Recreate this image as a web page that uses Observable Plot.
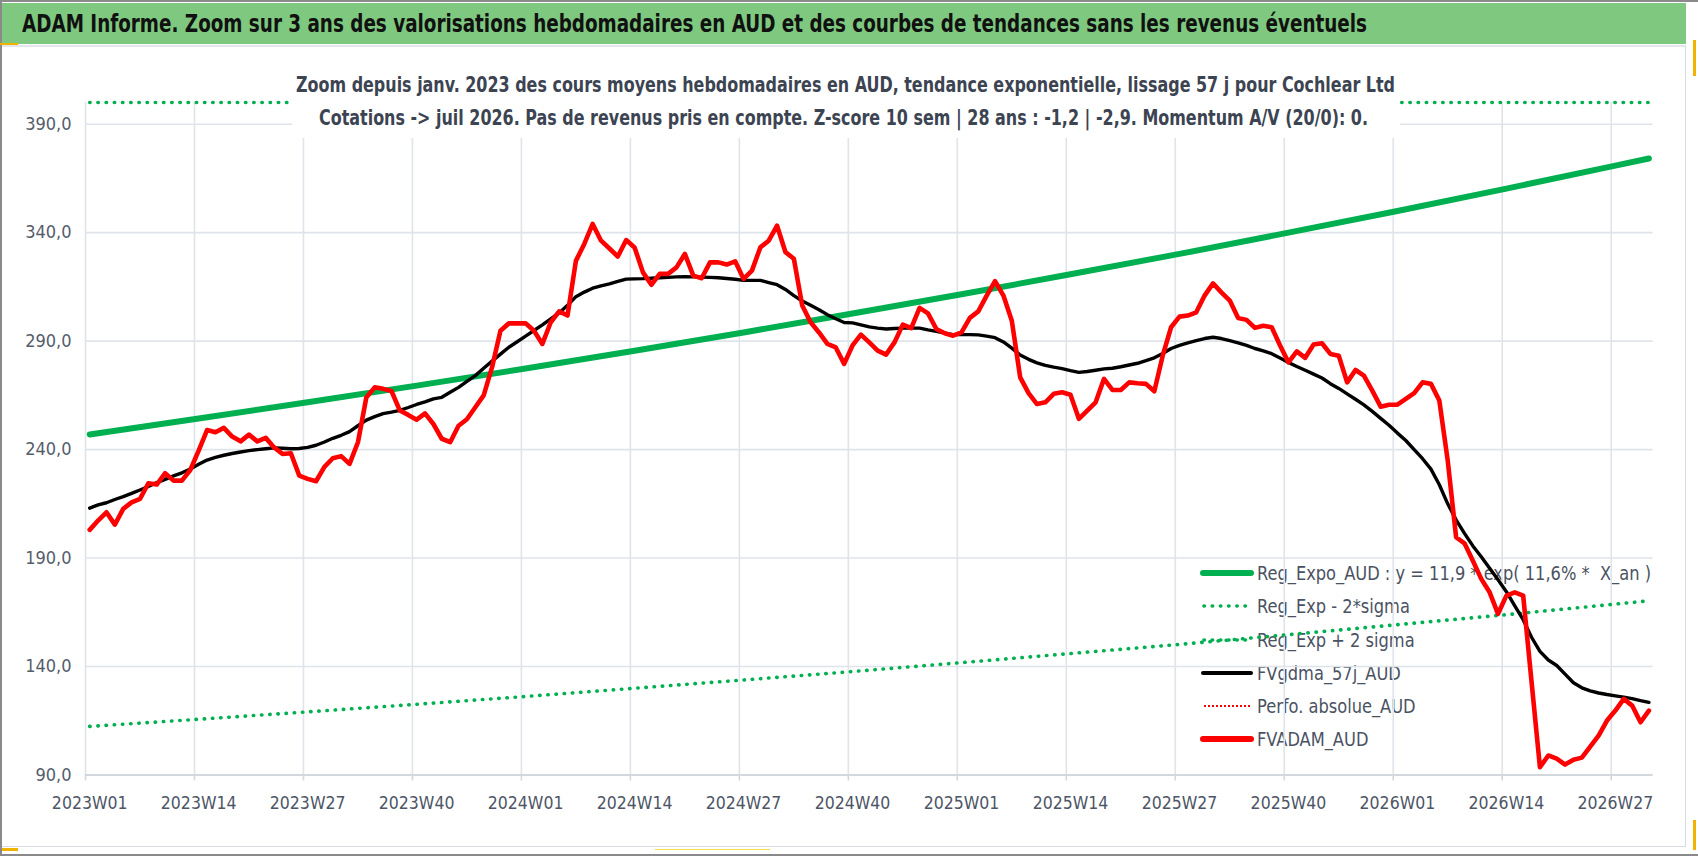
<!DOCTYPE html>
<html><head><meta charset="utf-8">
<script src="https://cdn.jsdelivr.net/npm/d3@7"></script>
<script src="https://cdn.jsdelivr.net/npm/@observablehq/plot@0.6"></script>
<style>
html,body{margin:0;padding:0;background:#fff;}
#wrap{position:relative;width:1698px;height:856px;overflow:hidden;background:#fff;font-family:"Liberation Sans Narrow","DejaVu Sans Condensed",sans-serif;}
.abs{position:absolute;}
#band{left:2px;top:3px;width:1684px;height:41px;background:#7ec97f;}
#title{left:22px;top:6px;font-size:25px;font-weight:bold;color:#111;white-space:nowrap;line-height:36px;transform-origin:0 50%;}
#chart{position:absolute;left:0;top:46px;z-index:1;}
#subbox{left:292px;top:60px;width:1108px;height:78px;background:#fff;z-index:2;}
.sub{position:absolute;white-space:nowrap;font-size:22px;font-weight:bold;color:#3c4452;line-height:30px;transform-origin:0 50%;}
.leg{position:absolute;left:1257px;white-space:pre;font-size:20px;color:#4a5262;line-height:30px;transform-origin:0 50%;z-index:0;}
.legs{position:absolute;left:1200px;width:56px;height:14px;z-index:0;}
</style></head>
<body>
<div id="wrap">
  <div class="abs" style="left:0;top:0;width:1698px;height:2px;background:#8a8a8a"></div>
  <div class="abs" style="left:0;top:0;width:2px;height:856px;background:#8a8a8a"></div>
  <div class="abs" style="left:0;top:854px;width:1698px;height:2px;background:#8a8a8a"></div>
  <div id="band" class="abs"></div>
  <div class="abs" style="left:0;top:43px;width:18px;height:2px;background:#f0b400"></div>
  <div class="abs" style="left:2px;top:45px;width:1684px;height:2px;background:#e3e6ea"></div>
  <div class="abs" style="left:1685px;top:46px;width:1px;height:800px;background:#d8dbe0"></div>
  <div class="abs" style="left:2px;top:846px;width:1684px;height:1px;background:#d8dbe0"></div>
  <div class="abs" style="left:1693px;top:40px;width:3px;height:36px;background:#f0b400"></div>
  <div class="abs" style="left:1693px;top:820px;width:3px;height:30px;background:#f0b400"></div>
  <div class="abs" style="left:2px;top:848px;width:16px;height:3px;background:#f0b400"></div>
  <div class="abs" style="left:655px;top:849px;width:115px;height:1px;background:#f5e04a"></div>
  <div id="title" class="abs"></div>
  <div id="subbox" class="abs"></div>
  <div id="sub1" class="sub" style="top:70px;z-index:3"></div>
  <div id="sub2" class="sub" style="top:103px;z-index:3"></div>
  <div id="legend"></div>
  <div id="chart"></div>
</div>
<script>
// ---------- data ----------
const titleText = "ADAM Informe. Zoom sur 3 ans des valorisations hebdomadaires en AUD et des courbes de tendances sans les revenus éventuels";
const subtitle1 = "Zoom depuis janv. 2023 des cours moyens hebdomadaires en AUD, tendance exponentielle, lissage 57 j pour Cochlear Ltd";
const subtitle2 = "Cotations -> juil 2026. Pas de revenus pris en compte. Z-score 10 sem | 28 ans : -1,2 | -2,9. Momentum A/V (20/0): 0.";

const years = [2023, 2024, 2025, 2026];
const weeksPerYear = [52, 52, 52, 31];
const weeks = [];
years.forEach((y, k) => { for (let w = 1; w <= weeksPerYear[k]; w++) weeks.push(y + "W" + String(w).padStart(2, "0")); });

const xTickLabels = ["2023W01","2023W14","2023W27","2023W40","2024W01","2024W14","2024W27","2024W40","2025W01","2025W14","2025W27","2025W40","2026W01","2026W14","2026W27"];
const yTicks = [90, 140, 190, 240, 290, 340, 390];

// FVADAM_AUD (weekly)
const fvadam = [203,207.3,211.1,205.4,212.7,215.7,217.3,224.5,223.9,229.1,225.7,225.7,230.6,239.5,249,248,250,246,243.8,246.9,243.8,245.4,241,238,238.3,228,226.5,225.4,232,236,237,233.4,243.4,264,268.7,268,267,258,256,253.8,256.7,251.8,245,243.4,251,254,259.5,265,278,294.8,298.2,298.2,298.2,294.8,288.7,298.7,303.7,301.8,327,334.8,344,336.3,332.7,329,336.6,333.2,321.7,316,321,321,324,330.2,320.2,319,326.3,326.3,325.3,326.8,318.7,322.5,333.2,336.3,343.2,331,328,306.4,298.7,294,288.7,287.1,279.5,288,293,289.4,285.6,283.8,289.4,297.6,296,305.3,302.8,295.6,293.6,292.5,294,300.7,303.7,311,317.6,311,299.4,273.3,266,261,261.8,265.7,266.4,265.3,254.2,258,261.8,272.6,267.5,267.5,271,270.6,270.3,266.9,283.3,296.4,301.3,301.8,303.3,311,316.6,312.5,308.7,300.7,299.8,296.1,297.1,296.4,288,280.2,285.3,282.3,288.4,289,284.1,283.3,271,276.7,274.1,267.2,259.8,260.7,260.7,263.4,266,271,270.3,262.6,235,199.6,196.8,188.8,180.4,174.2,164.3,172.7,174.2,172.7,133,93.6,99,97.5,94.8,97,98,103.1,108.2,115.1,119.7,125.1,122,114.3,119.7];

// FVgdma_57j_AUD (weekly)
const fvgdma = [213,214.5,215.5,217,218.3,219.8,221.4,223,224.8,226.3,227.9,229.3,231,233.2,235.2,236.4,237.4,238.2,238.9,239.5,240,240.4,240.8,240.6,240.4,240.5,241,242,243.5,245.2,246.6,248.3,251,253.6,255.2,256.6,257.3,258.1,259.4,260.8,262,263.4,264.1,266.4,268.7,271.4,274.1,277.5,280.8,284,287.2,289.7,292.3,294.9,297.5,300.3,303,306.5,310.5,312.6,314.4,315.5,316.4,317.5,318.6,318.7,318.8,319,319.2,319.4,319.6,319.7,319.6,319.5,319.4,319.2,318.9,318.5,318,318,318,317,316,313.8,311,308.5,306.5,304.5,302.2,300.3,298.6,298.4,297.5,296.6,296,295.6,295.8,296,296,296,295.2,294.5,293.7,293,293,293,292.9,292.3,291.6,289.6,286.8,283.6,281.6,280,278.8,278,277.3,276.4,275.6,276,276.6,277.2,277.5,278.2,279,279.8,281,282.3,284.3,286.6,288,289.2,290.2,291.2,291.8,291.2,290.2,289.2,288,286.6,285.5,284.2,282.2,280.2,278.3,276.6,274.8,273,270.4,268.2,265.7,263.2,260.6,257.6,254.4,251.2,247.6,244.2,240,235.8,231,223.8,215,207.6,201.4,195.6,190.6,185.3,180,174.5,168,161.6,153.5,147,143,140.5,136.5,132.5,130.2,128.8,127.8,127.1,126.5,125.9,125.2,124.3,123.5];

// trend curves read at a few weeks
const trendWeeks = ["2023W01","2023W14","2023W27","2023W40","2024W01","2024W14","2024W27","2024W40","2025W01","2025W14","2025W27","2025W40","2026W01","2026W14","2026W27","2026W31"];
const regExpo = [247,254.3,261.8,269.5,277.4,285.6,294,302.7,311.6,320.8,330.2,340,350,360.3,370.9,374.2];
const regMinus2 = [112.4,115.7,119.1,122.6,126.2,130,133.8,137.7,141.8,146,150.2,154.7,159.3,163.9,168.8,170.3];
const regPlus2 = [543,559,576,593,610,628,647,666,686,706,726,748,770,793,816,823];

const legendLabels = ["Reg_Expo_AUD : y = 11,9 * exp( 11,6% *  X_an )", "Reg_Exp - 2*sigma", "Reg_Exp + 2 sigma", "FVgdma_57j_AUD", "Perfo. absolue_AUD", "FVADAM_AUD"];

// ---------- build ----------
const idx = w => weeks.indexOf(w);
const series = weeks.map((w, i) => ({i, w, adam: fvadam[i], gdma: fvgdma[i]}));
const trend = trendWeeks.map((w, k) => ({i: idx(w), expo: regExpo[k], lo: regMinus2[k], hi: regPlus2[k]}));
const labelIdx = xTickLabels.map(idx);
const bounds = labelIdx.map(i => i - 0.5);
const N = weeks.length;
const FONT = '"Liberation Sans Narrow","DejaVu Sans Condensed",sans-serif';
const GREEN = "#00b050";
const DOTS = {stroke: GREEN, strokeWidth: 3.6, strokeDasharray: "0.4,7.8", strokeLinecap: "round"};

const chart = Plot.plot({
  width: 1698, height: 810,
  marginLeft: 85, marginRight: 45.4, marginTop: 56, marginBottom: 81.5,
  style: {background: "transparent", fontFamily: FONT, overflow: "visible"},
  x: {type: "linear", domain: [-0.5, N - 0.5], label: null},
  y: {domain: [90, 400], clamp: true, label: null},
  marks: [
    Plot.ruleY(yTicks.slice(1), {stroke: "#dfe3ea", strokeWidth: 1.6}),
    Plot.ruleX(bounds, {stroke: "#dfe3ea", strokeWidth: 1.6}),
    Plot.ruleY([90], {stroke: "#d3d7de", strokeWidth: 2.2}),
    Plot.ruleX(bounds, {y1: 90, y2: 90, insetBottom: -6, stroke: "#d3d7de", strokeWidth: 1.6}),
    Plot.axisX(labelIdx, {tickSize: 0, tickPadding: 22, tickFormat: i => weeks[i], fontSize: 17.5, fill: "#4d5566", label: null}),
    Plot.axisY(yTicks, {tickSize: 0, tickPadding: 14, tickFormat: d => d.toFixed(1).replace(".", ","), fontSize: 18, fill: "#555d6b", label: null}),
    Plot.line(trend, {x: "i", y: "hi", ...DOTS}),
    Plot.line(trend, {x: "i", y: "lo", ...DOTS}),
    Plot.line(trend, {x: "i", y: "expo", stroke: GREEN, strokeWidth: 6}),
    Plot.line(series, {x: "i", y: "gdma", stroke: "#000", strokeWidth: 3.4}),
    Plot.line(series, {x: "i", y: "adam", stroke: "#ff0000", strokeWidth: 4.6})
  ]
});
document.getElementById("chart").appendChild(chart);

// ---------- titles & legend ----------
document.getElementById("title").textContent = titleText;
document.getElementById("sub1").textContent = subtitle1;
document.getElementById("sub2").textContent = subtitle2;

const legendRowsY = [573, 606, 640, 673, 706, 739];
const samples = [
  '<line x1="3" y1="7" x2="51" y2="7" stroke="#00b050" stroke-width="6" stroke-linecap="round"/>',
  '<line x1="4" y1="7" x2="50" y2="7" stroke="#00b050" stroke-width="3.6" stroke-dasharray="0.4,7.8" stroke-linecap="round"/>',
  '<line x1="4" y1="7" x2="50" y2="7" stroke="#00b050" stroke-width="3.6" stroke-dasharray="0.4,7.8" stroke-linecap="round"/>',
  '<line x1="3" y1="7" x2="51" y2="7" stroke="#000" stroke-width="4" stroke-linecap="round"/>',
  '<line x1="4" y1="7" x2="50" y2="7" stroke="#ff0000" stroke-width="2" stroke-dasharray="2,2"/>',
  '<line x1="3" y1="7" x2="51" y2="7" stroke="#ff0000" stroke-width="6" stroke-linecap="round"/>'
];
const legend = document.getElementById("legend");
const legTexts = [];
legendLabels.forEach((lab, k) => {
  const s = document.createElementNS("http://www.w3.org/2000/svg", "svg");
  s.setAttribute("class", "legs"); s.setAttribute("width", 56); s.setAttribute("height", 14);
  s.style.top = (legendRowsY[k] - 7) + "px";
  s.innerHTML = samples[k];
  legend.appendChild(s);
  const t = document.createElement("div");
  t.className = "leg"; t.textContent = lab;
  t.style.top = (legendRowsY[k] - 15) + "px";
  legend.appendChild(t);
  legTexts.push(t);
});

function fitAll() {
  const fit = (el, target) => { el.style.transform = ""; const w = el.getBoundingClientRect().width; if (w > 0) el.style.transform = "scaleX(" + (target / w) + ")"; };
  fit(document.getElementById("title"), 1345);
  const s1 = document.getElementById("sub1"), s2 = document.getElementById("sub2");
  fit(s1, 1099); s1.style.left = (845 - 1099 / 2) + "px";
  fit(s2, 1049); s2.style.left = (843 - 1049 / 2) + "px";
  legTexts.forEach(t => t.style.transform = "");
  const w0 = legTexts[0].getBoundingClientRect().width;
  const sc = w0 > 0 ? 394 / w0 : 1;
  legTexts.forEach(t => t.style.transform = "scaleX(" + sc + ")");
}
fitAll();
if (document.fonts && document.fonts.ready) document.fonts.ready.then(fitAll);
</script>
</body></html>
